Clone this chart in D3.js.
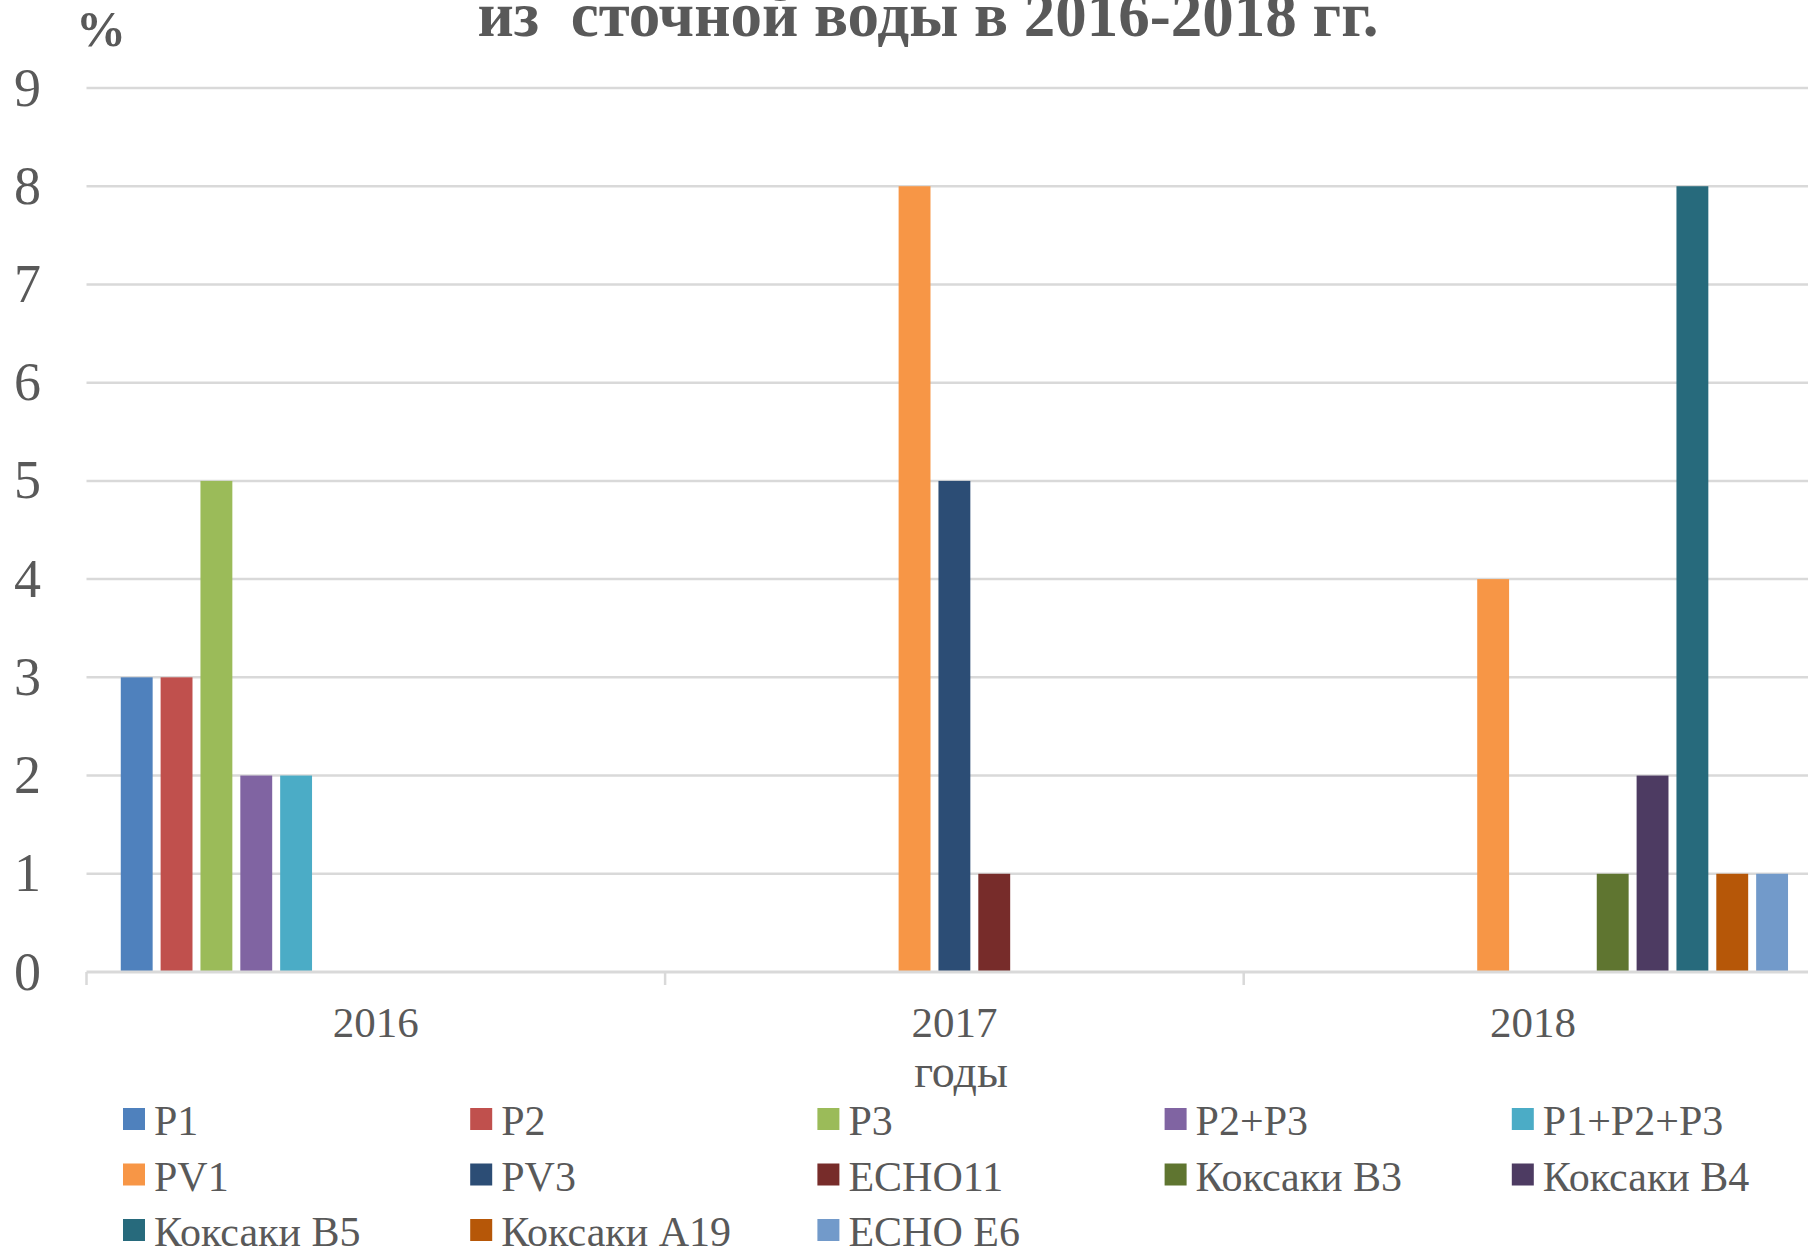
<!DOCTYPE html>
<html>
<head>
<meta charset="utf-8">
<script src="https://cdn.jsdelivr.net/npm/d3@7"></script>
<style>
  body { margin: 0; background: #fff; }
  svg { display: block; font-family: "Liberation Serif", "Times New Roman", serif; }
</style>
</head>
<body>
<div id="chart"></div>
<script>
// data
var years = ["2016", "2017", "2018"];
var seriesNames = ["P1", "P2", "P3", "P2+P3", "P1+P2+P3", "PV1", "PV3", "ECHO11",
  "Коксаки B3", "Коксаки B4", "Коксаки B5", "Коксаки A19", "ECHO E6"];
var values2016 = [3, 3, 5, 2, 2, 0, 0, 0, 0, 0, 0, 0, 0];
var values2017 = [0, 0, 0, 0, 0, 8, 5, 1, 0, 0, 0, 0, 0];
var values2018 = [0, 0, 0, 0, 0, 4, 0, 0, 1, 2, 8, 1, 1];
var yTicks = [0, 1, 2, 3, 4, 5, 6, 7, 8, 9];
var colors = ["#4F81BD", "#C0504D", "#9BBB59", "#8064A2", "#4BACC6", "#F79646", "#2C4D75",
  "#772C2A", "#5F7530", "#4D3B62", "#276A7C", "#B65708", "#729ACA"];

var svgWidth = 1808;
var svgHeight = 1251;
var textColor = "#595959";

var svg = d3.select("#chart").append("svg")
  .attr("width", svgWidth)
  .attr("height", svgHeight);

var rows = [
  { year: "2016", vals: values2016 },
  { year: "2017", vals: values2017 },
  { year: "2018", vals: values2018 }
];

// plot area runs past the right edge (cut off, like the original)
var catW = 578.6;
var x0 = d3.scaleBand().domain(years).range([86.5, 86.5 + 3 * catW]).padding(0);
var x1 = d3.scaleBand().domain(seriesNames)
  .range([0, x0.bandwidth()])
  .paddingInner(0.2)
  .paddingOuter(0.86);
var y = d3.scaleLinear().domain([0, 9]).range([972, 88]);

// gridlines
svg.append("g").selectAll("line")
  .data(yTicks.slice(1))
  .enter().append("line")
  .attr("x1", 86.5).attr("x2", svgWidth)
  .attr("y1", d => y(d)).attr("y2", d => y(d))
  .attr("stroke", "#d9d9d9").attr("stroke-width", 2.5);

// y labels
svg.append("g").selectAll("text")
  .data(yTicks)
  .enter().append("text")
  .attr("x", 41).attr("y", d => y(d) + 17.5)
  .attr("text-anchor", "end")
  .attr("font-size", 54)
  .attr("fill", textColor)
  .text(d => d);

// bars
var groups = svg.append("g").selectAll("g")
  .data(rows)
  .enter().append("g")
  .attr("transform", d => `translate(${x0(d.year)},0)`);

groups.selectAll("rect")
  .data(d => d.vals.map((v, i) => ({ name: seriesNames[i], value: v, color: colors[i] })))
  .enter().append("rect")
  .filter(d => d.value > 0)
  .attr("x", d => x1(d.name))
  .attr("width", x1.bandwidth())
  .attr("y", d => y(d.value))
  .attr("height", d => y(0) - y(d.value))
  .attr("fill", d => d.color);

// x axis
var bottomAxis = d3.axisBottom(x0).tickSize(0).tickFormat("");
var axisG = svg.append("g")
  .attr("transform", `translate(0, ${y(0)})`)
  .call(bottomAxis);
axisG.select(".domain").remove();
axisG.append("line")
  .attr("x1", 86.5).attr("x2", svgWidth)
  .attr("y1", 0).attr("y2", 0)
  .attr("stroke", "#d9d9d9").attr("stroke-width", 3);
axisG.selectAll(".sep")
  .data(years)
  .enter().append("line")
  .attr("class", "sep")
  .attr("x1", d => x0(d)).attr("x2", d => x0(d))
  .attr("y1", 0).attr("y2", 13)
  .attr("stroke", "#d9d9d9").attr("stroke-width", 2.5);

svg.append("g").selectAll("text")
  .data(years)
  .enter().append("text")
  .attr("x", d => x0(d) + x0.bandwidth() / 2)
  .attr("y", 1037)
  .attr("text-anchor", "middle")
  .attr("font-size", 43)
  .attr("fill", textColor)
  .text(d => d);

// axis titles
svg.append("text")
  .attr("x", 961).attr("y", 1087)
  .attr("text-anchor", "middle")
  .attr("font-size", 46)
  .attr("fill", textColor)
  .text("годы");

svg.append("text")
  .attr("x", 76).attr("y", 46)
  .attr("font-size", 50)
  .attr("font-weight", "bold")
  .attr("fill", textColor)
  .text("%");

// title (top of it is cut off in the original)
svg.append("text")
  .attr("x", 928).attr("y", 36)
  .attr("text-anchor", "middle")
  .attr("font-size", 63)
  .attr("font-weight", "bold")
  .attr("fill", textColor)
  .attr("xml:space", "preserve")
  .style("white-space", "pre")
  .text("из  сточной воды в 2016-2018 гг.");

// legend
var legend = svg.append("g").selectAll("g")
  .data(seriesNames)
  .enter().append("g")
  .attr("transform", (d, i) => `translate(${123 + (i % 5) * 347.2}, ${1108 + Math.floor(i / 5) * 55.5})`);

legend.append("rect")
  .attr("width", 22).attr("height", 22)
  .attr("fill", (d, i) => colors[i]);

legend.append("text")
  .attr("x", 31).attr("y", 27)
  .attr("font-size", 42)
  .attr("fill", textColor)
  .text(d => d);
</script>
</body>
</html>
